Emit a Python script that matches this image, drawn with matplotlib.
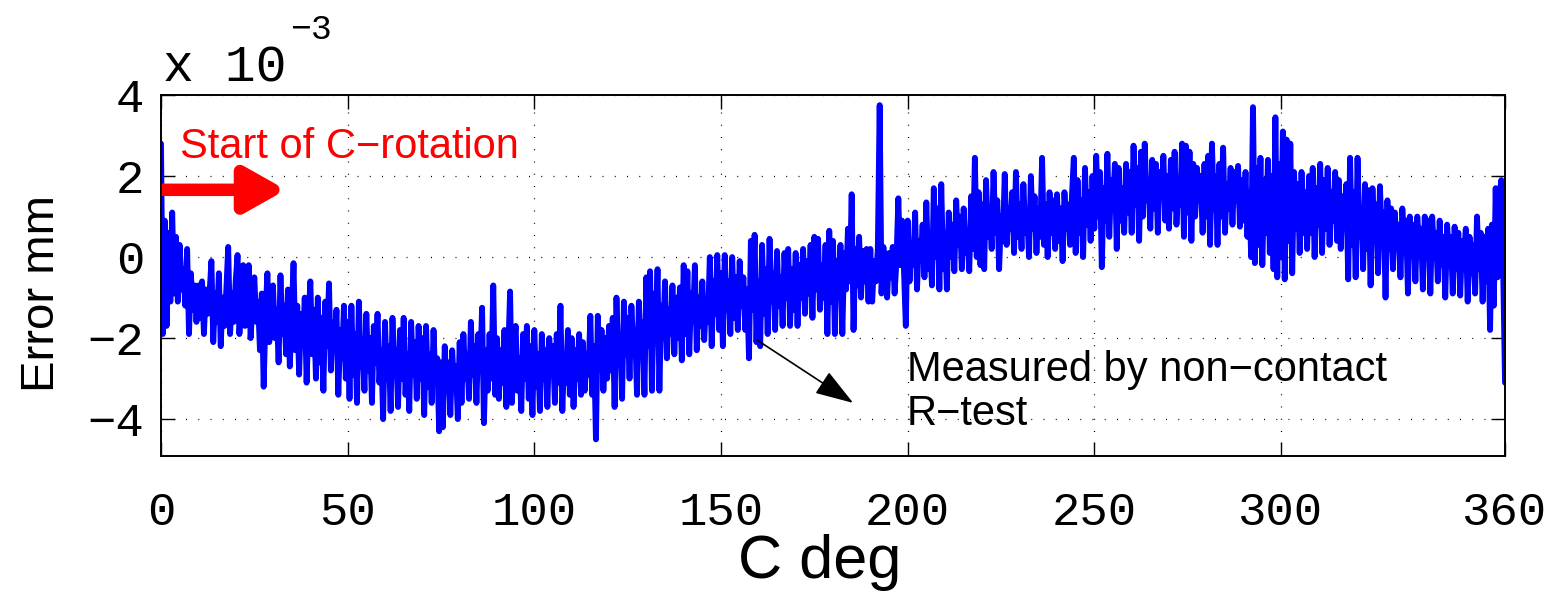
import numpy as np
import matplotlib
matplotlib.use("Agg")
import matplotlib.pyplot as plt

# ---- data (error in units of 1e-3 mm, sampled every 0.5 deg of C) ----
step_deg = 0.5
err_000_090 = [
    2.8, -1.9, 0.9, -1.7, 0.6, -1.1, 1.1, -0.9, 0.5, -1.1, 0.3, -0.8, -0.3, -1.2, 0.2, -1.9, -0.4, -1.3, -0.7, -1.6,
    -0.7, -1.5, -0.6, -1.9, -0.8, -1.4, -0.9, -0.1, -2.1, -0.9, -1.6, -0.4, -2.2, -1.0, -1.7, -0.8, 0.25, -1.9, -0.9, -1.6,
    -0.6, 0.05, -1.9, -1.1, -0.2, -1.7, -1.0, -0.2, -2.0, -1.2, -0.5, -1.6, -1.1, -2.3, -0.9, -3.2, -1.4, -0.4, -2.1, -1.3,
    -0.7, -2.0, -1.3, -2.6, -0.45, -1.9, -1.2, -2.4, -0.8, -2.7, -1.5, -0.15, -2.3, -1.2, -2.9, -1.4, -2.2, -1.0, -3.1, -1.6,
    -0.6, -2.4, -1.3, -3.0, -1.0, -2.6, -1.5, -3.3, -1.1, -2.2, -0.65, -2.8, -1.6, -2.2, -1.3, -3.4, -1.8, -2.5, -1.2, -3.0,
    -1.6, -3.5, -1.2, -2.9, -1.9, -3.6, -1.1, -2.7, -2.2, -3.3, -1.4, -2.8, -2.0, -3.6, -1.7, -2.6, -1.4, -3.1, -2.3, -4.0,
    -1.6, -3.0, -2.2, -3.8, -1.5, -2.8, -2.3, -3.7, -1.8, -3.0, -1.5, -3.4, -2.4, -3.8, -1.6, -2.9, -2.1, -3.5, -1.7, -3.0,
    -2.0, -3.9, -1.7, -3.2, -2.4, -3.6, -1.8, -3.1, -2.5, -4.3, -2.6, -4.2, -2.2, -3.3, -2.6, -3.9, -2.3, -3.2, -2.7, -4.0,
    -2.1, -3.6, -1.9, -3.0, -2.4, -3.5, -1.6, -2.9, -2.2, -3.6, -1.9, -2.8, -1.25, -4.1, -2.3, -3.3, -1.9, -3.0, -0.7, -3.4,
]
err_090_180 = [
    -2.0, -3.5, -2.3, -3.1, -1.8, -3.7, -2.4, -0.85, -3.6, -2.2, -1.7, -3.3, -2.5, -3.8, -1.9, -3.0, -1.7, -3.5, -2.2, -3.9,
    -1.8, -3.2, -2.4, -3.8, -1.9, -3.0, -2.3, -3.7, -2.0, -2.9, -2.2, -3.6, -1.9, -3.1, -1.2, -3.8, -2.4, -3.1, -1.8, -3.4,
    -2.0, -3.7, -2.3, -3.0, -1.9, -3.4, -2.1, -3.3, -2.4, -2.9, -1.45, -3.4, -2.2, -4.5, -1.45, -2.7, -1.8, -3.3, -2.0, -3.0,
    -1.7, -2.8, -1.5, -3.7, -1.0, -2.6, -1.9, -3.5, -1.1, -2.4, -1.5, -3.0, -1.2, -2.2, -1.8, -3.4, -1.1, -2.4, -1.6, -3.4,
    -0.5, -2.2, -0.35, -3.3, -0.9, -1.9, -0.3, -3.3, -1.2, -2.0, -0.6, -2.5, -1.3, -1.9, -0.7, -2.4, -1.0, -2.0, -0.75, -2.55,
    -0.2, -1.9, -0.35, -2.4, -0.9, -1.6, -0.2, -2.3, -1.0, -1.7, -0.6, -2.05, -1.1, -1.6, 0.0, -2.2, -0.6, -1.4, 0.05, -1.8,
    -0.4, -2.2, 0.05, -1.3, -0.6, -1.9, 0.0, -1.5, -0.5, -1.8, -0.1, -1.2, -0.5, -1.8, -0.8, -2.5, 0.4, -1.3, 0.55, -2.1,
    -0.6, -2.2, 0.3, -1.4, -0.3, -1.9, 0.45, -1.1, -0.4, -1.8, 0.15, -1.2, -0.5, -1.7, 0.1, -1.0, 0.2, -1.7, -0.3, -1.3,
    0.1, -1.7, -0.2, -1.0, 0.2, -1.4, -0.1, -0.9, 0.3, -1.5, 0.5, -0.8, 0.45, -1.3, -0.2, -1.0, 0.3, -1.9, 0.65, -1.1,
]
err_180_270 = [
    0.4, -1.9, -0.1, -0.9, 0.3, -1.9, 0.1, -0.8, 0.7, -0.6, 1.55, -1.8, 0.2, -0.7, 0.5, -1.0, 0.15, -0.6, 0.2, -1.1,
    0.2, -1.1, -0.1, -0.6, 0.2, 3.75, -0.9, 0.25, -0.4, -1.0, 0.1, -0.5, 0.25, -0.9, -0.1, 1.45, -0.2, 0.9, -0.3, -1.7,
    0.9, -0.6, 0.3, -0.2, 1.1, -0.8, 0.4, -0.1, 0.8, -0.5, 1.35, -0.3, 0.5, -0.7, 1.7, 0.0, 1.2, -0.8, 1.8, -0.3,
    0.6, -0.8, 1.1, 0.0, 0.8, -0.35, 1.4, 0.3, 1.0, -0.3, 1.2, 0.1, 0.5, -0.35, 1.5, 0.2, 2.45, 0.0, 1.6, -0.2,
    1.3, -0.3, 1.9, 0.5, 1.1, 0.2, 2.1, 0.6, 1.4, -0.3, 1.0, 0.4, 2.05, 0.3, 1.2, 0.7, 1.6, 0.1, 2.1, 0.5,
    1.3, 0.2, 1.8, 0.6, 1.1, 0.0, 2.0, 0.7, 1.5, 0.1, 1.2, 0.5, 2.45, 0.3, 1.3, 0.0, 1.6, 0.6, 1.4, 0.2,
    1.55, 0.4, 1.2, -0.1, 1.6, 0.7, 1.3, 0.3, 1.5, 2.45, 0.1, 1.9, 0.6, 1.4, 0.0, 2.2, 0.8, 1.6, 0.4, 2.0,
    0.7, 2.5, 1.0, 2.1, -0.25, 1.7, 0.9, 2.55, 0.5, 1.9, 1.2, 2.3, 0.2, 2.2, 0.9, 1.7, 0.6, 2.3, 1.1, 2.1,
    0.6, 2.75, 1.3, 2.2, 0.4, 2.6, 1.0, 2.8, 1.4, 1.9, 0.7, 2.4, 1.2, 2.3, 0.6, 2.1, 1.5, 2.5, 0.9, 2.0,
]
err_270_360 = [
    0.7, 2.4, 1.2, 2.6, 0.8, 1.8, 1.3, 2.8, 0.5, 2.75, 1.1, 2.6, 0.4, 2.3, 1.0, 2.2, 1.4, 2.0, 0.6, 2.3,
    1.0, 2.5, 0.3, 2.8, 1.2, 2.0, 0.3, 2.3, 1.0, 2.7, 0.6, 1.8, 1.2, 2.2, 0.8, 2.1, 1.4, 2.25, 0.75, 1.9,
    0.9, 2.1, 0.5, 1.6, 0.0, 3.7, -0.15, 2.2, 0.3, 2.45, -0.2, 1.9, 0.6, 2.4, 0.1, 2.0, -0.3, 3.45, -0.5, 2.3,
    0.0, 3.1, -0.55, 2.9, 0.4, 2.8, -0.4, 2.1, 0.7, 1.8, 0.1, 2.1, 0.6, 1.6, 0.2, 2.0, 0.6, 2.2, 0.0, 1.7,
    0.8, 2.3, 0.1, 1.9, 0.7, 2.2, 0.3, 1.6, 0.9, 2.1, 0.4, 1.9, 0.2, 1.5, 0.8, 1.8, -0.55, 2.45, 0.3, 1.6,
    -0.5, 2.45, 0.5, 1.2, -0.3, 1.8, 0.2, 1.65, -0.7, 1.7, 0.4, 1.3, -0.4, 1.75, 0.5, 1.1, -1.0, 1.4, 0.2, 1.2,
    -0.3, 1.1, 0.2, 0.8, -0.5, 1.2, 0.4, 0.9, -0.9, 1.0, 0.1, 0.8, -0.6, 1.0, 0.3, 0.7, -0.8, 1.0, 0.0, 0.9,
    -0.9, 1.0, 0.1, 0.6, -0.6, 0.9, -0.2, 0.5, -1.0, 0.8, 0.0, 0.5, -0.9, 0.75, -0.3, 0.6, -0.95, 0.4, 0.0, 0.7,
    -1.1, 0.5, -0.4, 0.3, -0.9, 1.0, -0.3, 0.6, -1.1, 0.5, -0.6, 0.7, -1.8, 0.8, -1.2, 1.7, -0.5, 1.5, 1.9, -0.3,
    -3.1,
]

xticks = [0, 50, 100, 150, 200, 250, 300, 360]
xtick_labels = ["0", "50", "100", "150", "200", "250", "300", "360"]
yticks = [-4, -2, 0, 2, 4]
ytick_labels = ["\u22124", "\u22122", "0", "2", "4"]

error_units = np.array(err_000_090 + err_090_180 + err_180_270 + err_270_360)
c_deg = np.arange(len(error_units)) * step_deg

mono = "Liberation Mono"
sans = "Liberation Sans"

fig = plt.figure(figsize=(15.53, 5.95), dpi=100)
ax = fig.add_axes([161 / 1553, 1 - 456 / 595, (1505 - 161) / 1553, (456 - 95) / 595])

ax.plot(c_deg, error_units, color=(0, 0, 1), lw=4.2, solid_joinstyle="round", solid_capstyle="round")

ax.set_xlim(0, 360)
ax.set_ylim(-4.91, 4.0)
ax.set_xticks(xticks)
ax.set_xticklabels(xtick_labels, fontfamily=mono, fontsize=34)
ax.set_yticks(yticks)
ax.set_yticklabels(ytick_labels, fontfamily=mono, fontsize=34)
ax.tick_params(direction="in", length=10, width=1.0, top=True, right=True, color="black")
ax.tick_params(axis="x", pad=25)
ax.tick_params(axis="y", pad=12)
for s in ax.spines.values():
    s.set_linewidth(1.4)
ax.grid(True, color="black", linestyle=(0, (0.8, 9)), linewidth=0.9)

ax.set_xlabel("C deg", fontfamily=sans, fontsize=44)
ax.xaxis.set_label_coords(0.49, -0.215)
ax.set_ylabel("Error mm", fontfamily=sans, fontsize=34)
ax.yaxis.set_label_coords(-0.072, 0.45)

# exponent label
fig.text(163 / 1553, 1 - 82 / 595, "x 10", fontfamily=mono, fontsize=37, ha="left", va="baseline")
fig.text(290 / 1553, 1 - 39 / 595, "\u22123", fontfamily=mono, fontsize=25, ha="left", va="baseline")

# annotations
ax.text(5.0, 2.45, "Start of C\u2212rotation", color="red", fontfamily=sans, fontsize=30, va="baseline")
ax.annotate("", xy=(33.5, 1.66), xytext=(0.2, 1.66),
            arrowprops=dict(arrowstyle="-|>,head_length=0.8,head_width=0.45", lw=9, color="red",
                            mutation_scale=30, shrinkA=0, shrinkB=0, joinstyle="round", capstyle="butt"))

ax.annotate("", xy=(185.4, -3.6), xytext=(159.7, -2.05),
            arrowprops=dict(arrowstyle="-|>,head_length=1.2,head_width=0.4", lw=1.2, color="black",
                            mutation_scale=20, shrinkA=0, shrinkB=0))
ax.text(199.8, -3.06, "Measured by non\u2212contact", fontfamily=sans, fontsize=30, va="baseline")
ax.text(199.8, -4.15, "R\u2212test", fontfamily=sans, fontsize=30, va="baseline")

fig.savefig("out.png", dpi=100)
